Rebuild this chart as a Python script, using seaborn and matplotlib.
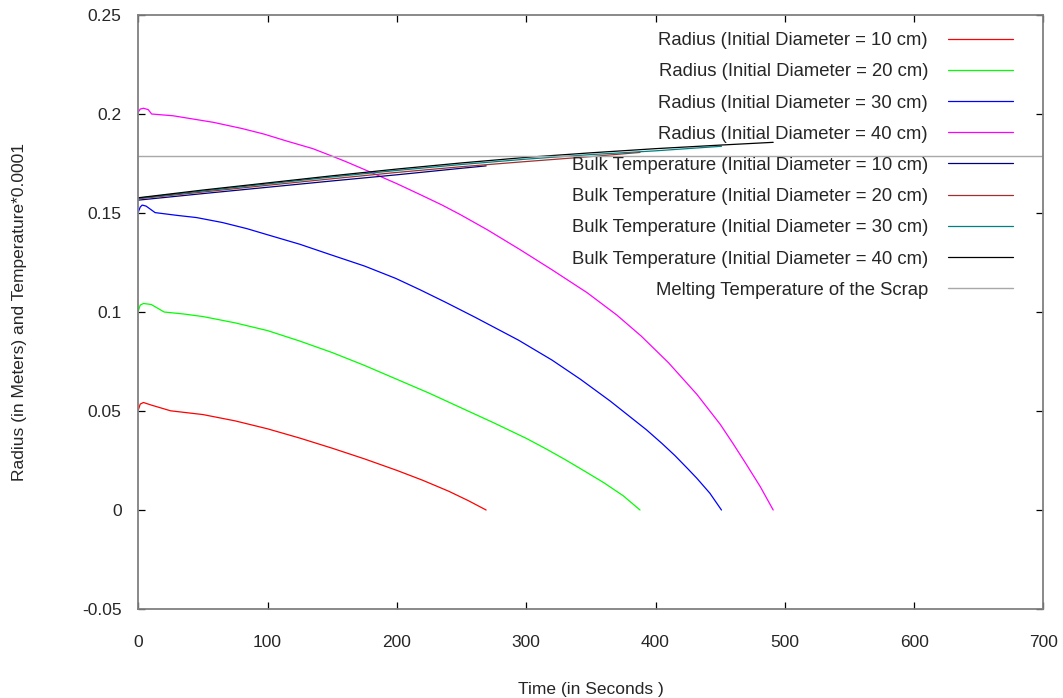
import pandas as pd
import seaborn as sns
from matplotlib import pyplot as plt

# Radius of the scrap (m) against time (s)
t_r10 = [0, 1.5, 4, 10, 25, 50, 75, 100, 125, 150, 175, 200, 220, 240, 255, 269]
r_10 = [0.0505, 0.0535, 0.0543, 0.0530, 0.0501, 0.0482, 0.0450, 0.0410, 0.0363, 0.0312,
        0.0258, 0.0200, 0.0150, 0.0095, 0.0048, 0.0]

t_r20 = [0, 1.5, 4, 10, 20, 35, 50, 75, 100, 125, 150, 175, 200, 225, 250, 275, 300,
         315, 330, 345, 360, 375, 388]
r_20 = [0.1005, 0.1035, 0.1043, 0.1038, 0.1000, 0.0990, 0.0977, 0.0945, 0.0906, 0.0853,
        0.0795, 0.0730, 0.0660, 0.0590, 0.0515, 0.0440, 0.0362, 0.0310, 0.0255, 0.0197,
        0.0138, 0.0072, 0.0]

t_r30 = [0, 1.5, 3, 6, 13, 30, 45, 65, 84, 100, 125, 148, 175, 199, 218, 238, 260, 294,
         320, 342, 365, 393, 405, 415, 425, 432, 442, 451]
r_30 = [0.1505, 0.1530, 0.1540, 0.1535, 0.1502, 0.1488, 0.1477, 0.1452, 0.1421, 0.1390,
        0.1342, 0.1291, 0.1232, 0.1170, 0.1112, 0.1048, 0.0975, 0.0858, 0.0757, 0.0660,
        0.0550, 0.0405, 0.0336, 0.0275, 0.0208, 0.0160, 0.0085, 0.0]

t_r40 = [0, 1.5, 4, 7.7, 10.3, 27, 58, 80, 97, 115, 135, 148, 160, 179, 200, 218, 235,
         249, 270, 295, 320, 347, 370, 389, 410, 432, 450, 460, 470, 481, 491]
r_40 = [0.2010, 0.2025, 0.2029, 0.2022, 0.2000, 0.1991, 0.1958, 0.1927, 0.1899, 0.1863,
        0.1825, 0.1792, 0.1761, 0.1708, 0.1648, 0.1593, 0.1540, 0.1492, 0.1415, 0.1316,
        0.1213, 0.1098, 0.0985, 0.0878, 0.0744, 0.0584, 0.0433, 0.0335, 0.0233, 0.0118, 0.0]

# Bulk temperature (K) against time (s)
t_T10 = [0, 50, 100, 150, 200, 250, 269]
T_10 = [1565, 1598, 1630, 1662, 1693, 1726, 1738]
t_T20 = [0, 50, 100, 150, 200, 250, 300, 350, 388]
T_20 = [1572, 1606, 1640, 1673, 1705, 1734, 1760, 1785, 1806]
t_T30 = [0, 50, 100, 150, 200, 250, 300, 350, 400, 451]
T_30 = [1575, 1611, 1647, 1682, 1715, 1745, 1772, 1795, 1814, 1837]
t_T40 = [0, 50, 100, 150, 200, 250, 300, 350, 400, 450, 491]
T_40 = [1577, 1616, 1652, 1688, 1722, 1753, 1781, 1804, 1825, 1843, 1857]

T_melt = 1790
temp_scale = 0.0001

diameters = [10, 20, 30, 40]
radius_colors = ['#ff0000', '#00ff00', '#0000ff', '#ff00ff']
temp_colors = ['#000080', '#a03030', '#008080', '#000000']

sns.set_style('ticks')
plt.rcParams['font.family'] = ['Liberation Sans', 'DejaVu Sans']

fig = plt.figure(figsize=(10.63, 6.98), dpi=100)
ax = fig.add_axes([0.1301, 0.1275, 0.8515, 0.851])

for d, t, r, c in zip(diameters, [t_r10, t_r20, t_r30, t_r40], [r_10, r_20, r_30, r_40], radius_colors):
    sns.lineplot(x=t, y=r, color=c, linewidth=0.9, sort=False, estimator=None,
                 label=f'Radius (Initial Diameter = {d} cm)', ax=ax)

for d, t, T, c in zip(diameters, [t_T10, t_T20, t_T30, t_T40], [T_10, T_20, T_30, T_40], temp_colors):
    sns.lineplot(x=t, y=[v * temp_scale for v in T], color=c, linewidth=0.9, sort=False,
                 estimator=None, label=f'Bulk Temperature (Initial Diameter = {d} cm)', ax=ax)

ax.axhline(T_melt * temp_scale, color='#a8a8a8', linewidth=1.0,
           label='Melting Temperature of the Scrap')

ax.set_xlim(0, 700)
ax.set_ylim(-0.05, 0.25)
ax.set_xticks(range(0, 701, 100))
ax.set_yticks([-0.05, 0, 0.05, 0.1, 0.15, 0.2, 0.25])
ax.set_yticklabels(['-0.05', '0', '0.05', '0.1', '0.15', '0.2', '0.25'])

for s in ax.spines.values():
    s.set_color('#808080')
    s.set_linewidth(1.3)
ax.tick_params(direction='in', length=5, width=0.9, color='black', labelsize=12.5,
               top=True, right=True)
ax.tick_params(axis='x', pad=19)
ax.tick_params(axis='y', pad=12)

ax.set_xlabel('Time (in Seconds )', fontsize=12.5)
ax.set_ylabel('Radius (in Meters) and Temperature*0.0001', fontsize=12.5)
ax.xaxis.set_label_coords(0.5, -0.123)
ax.yaxis.set_label_coords(-0.123, 0.5)

handles, labels = ax.get_legend_handles_labels()
ax.legend(handles, labels, loc='upper right', bbox_to_anchor=(0.9664, 0.9713),
          frameon=False, markerfirst=False, fontsize=13.3, handlelength=3.5,
          handletextpad=1.1, labelspacing=0.77, borderpad=0, borderaxespad=0)

plt.savefig('out.png', dpi=100)
